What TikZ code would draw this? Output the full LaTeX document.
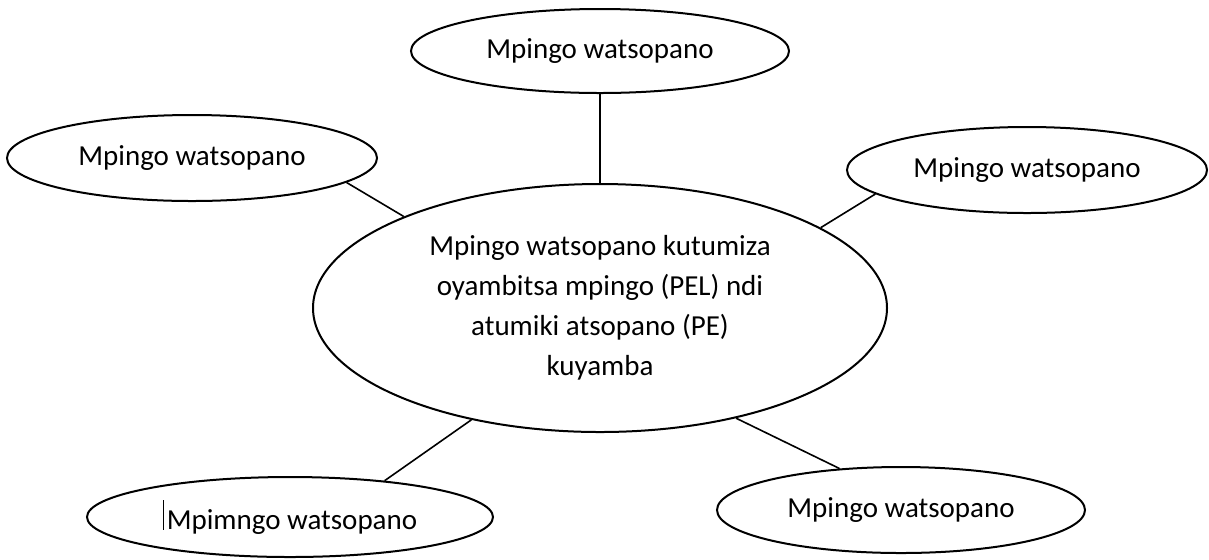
\documentclass[tikz,border=0pt]{standalone}
\usepackage{fontspec}
\setmainfont{Carlito}
\usepackage{tikz}
\usetikzlibrary{shapes.geometric}

\begin{document}
\begin{tikzpicture}[x=0.5pt, y=-0.5pt,
      bubble/.style={ellipse, draw=black, line width=1pt, inner sep=0pt,
          font=\fontsize{14.5pt}{20pt}\selectfont, align=center},
      link/.style={draw=black, line width=0.8pt}
    ]
    \useasboundingbox (0,0) rectangle (1209,559);

    \node[bubble, minimum width=287pt, minimum height=124pt] (hub) at (600,308)
        {Mpingo watsopano kutumiza\\oyambitsa mpingo (PEL) ndi\\atumiki atsopano (PE)\\kuyamba};
    \node[bubble, minimum width=189pt, minimum height=42pt] (top)   at (600,51)   {Mpingo watsopano};
    \node[bubble, minimum width=185pt, minimum height=43pt] (left)  at (192,158)  {Mpingo watsopano};
    \node[bubble, minimum width=180pt, minimum height=43pt] (right) at (1027,170) {Mpingo watsopano};
    \node[bubble, minimum width=203pt, minimum height=40pt] (botl)  at (290,517)
        {\rule[0pt]{0.5pt}{15pt}\hspace{1.5pt}Mpimngo watsopano};
    \node[bubble, minimum width=184pt, minimum height=43pt] (botr)  at (901,510)  {Mpingo watsopano};

    \draw[link] (top.south)  -- (hub.north);
    \draw[link] (left.-9)    -- (hub.155);
    \draw[link] (right.-171) -- (hub.20);
    \draw[link] (botl.21)    -- (hub.-139);
    \draw[link] (botr.146)   -- (hub.-39);
\end{tikzpicture}
\end{document}
